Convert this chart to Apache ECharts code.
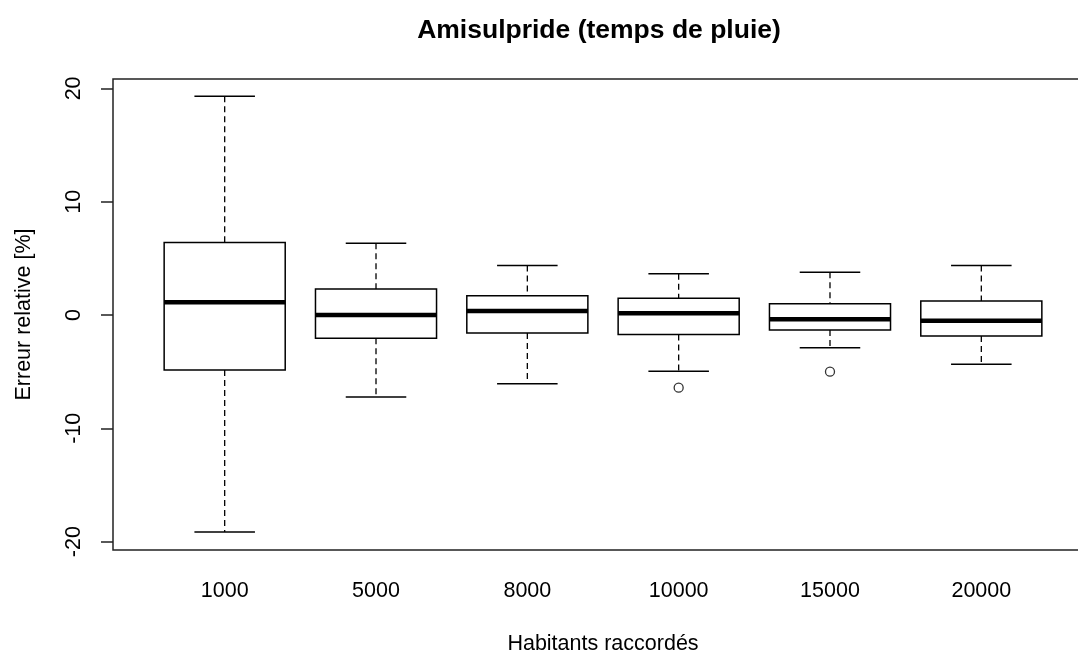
<!DOCTYPE html>
<html>
<head>
<meta charset="utf-8">
<script src="https://cdn.jsdelivr.net/npm/echarts@6/dist/echarts.min.js"></script>
<style>
  html, body { margin: 0; padding: 0; background: #fff; }
  #chart { width: 1078px; height: 652px; }
</style>
</head>
<body>
<div id="chart"></div>
<script>
// categories (habitants raccordés)
let categories = ['1000', '5000', '8000', '10000', '15000', '20000'];
// box stats: lower whisker, Q1, median, Q3, upper whisker
let lowWhisker = [-19.15, -7.24, -6.06, -4.97, -2.88, -4.35];
let q1 = [-4.85, -2.06, -1.59, -1.71, -1.32, -1.85];
let median = [1.12, 0.0, 0.35, 0.15, -0.38, -0.5];
let q3 = [6.4, 2.29, 1.71, 1.47, 1.0, 1.24];
let highWhisker = [19.3, 6.33, 4.38, 3.65, 3.77, 4.38];
// outliers: [category index (1-based), value]
let outliers = [[4, -6.41], [5, -5.0]];
let yTicks = [-20, -10, 0, 10, 20];

let FONT = 'Liberation Sans, Arial, sans-serif';

let boxData = categories.map(function (c, i) {
    return [i + 1, lowWhisker[i], q1[i], median[i], q3[i], highWhisker[i]];
});

function renderBox(params, api) {
    let x = api.value(0);
    let pLow = api.coord([x, api.value(1)]);
    let pQ1 = api.coord([x, api.value(2)]);
    let pMed = api.coord([x, api.value(3)]);
    let pQ3 = api.coord([x, api.value(4)]);
    let pHigh = api.coord([x, api.value(5)]);
    let boxW = api.size([0.8, 0])[0];
    let capW = boxW / 2;
    let cx = pMed[0];
    let dash = { stroke: '#000', lineWidth: 1.3, lineDash: [6, 4] };
    let solid = { stroke: '#000', lineWidth: 1.5 };
    return {
        type: 'group',
        children: [
            { type: 'line', shape: { x1: cx, y1: pHigh[1], x2: cx, y2: pQ3[1] }, style: dash },
            { type: 'line', shape: { x1: cx, y1: pQ1[1], x2: cx, y2: pLow[1] }, style: dash },
            { type: 'line', shape: { x1: cx - capW / 2, y1: pHigh[1], x2: cx + capW / 2, y2: pHigh[1] }, style: solid },
            { type: 'line', shape: { x1: cx - capW / 2, y1: pLow[1], x2: cx + capW / 2, y2: pLow[1] }, style: solid },
            { type: 'rect', shape: { x: cx - boxW / 2, y: pQ3[1], width: boxW, height: pQ1[1] - pQ3[1] },
              style: { fill: '#fff', stroke: '#000', lineWidth: 1.5 } },
            { type: 'line', shape: { x1: cx - boxW / 2, y1: pMed[1], x2: cx + boxW / 2, y2: pMed[1] },
              style: { stroke: '#000', lineWidth: 4.5 } }
        ]
    };
}

let chart = echarts.init(document.getElementById('chart'), null, { renderer: 'canvas' });
chart.setOption({
    backgroundColor: '#fff',
    animation: false,
    title: {
        text: 'Amisulpride (temps de pluie)',
        left: 594,
        textAlign: 'center',
        top: 12,
        textStyle: { fontFamily: FONT, fontSize: 26.5, fontWeight: 'bold', color: '#000' }
    },
    grid: {
        left: 113, top: 79, width: 980, height: 471,
        outerBoundsMode: 'none',
        containLabel: false,
        show: true, borderColor: '#222', borderWidth: 1.5, backgroundColor: 'transparent'
    },
    xAxis: {
        type: 'value',
        min: 0.262, max: 6.738,
        name: 'Habitants raccordés',
        nameLocation: 'middle',
        nameGap: 83,
        nameTextStyle: { fontFamily: FONT, fontSize: 21.5, color: '#000' },
        axisLine: { show: false },
        splitLine: { show: false },
        axisTick: { show: true, length: 12, lineStyle: { color: '#222', width: 1.5 },
                    customValues: [1, 2, 3, 4, 5, 6] },
        axisLabel: {
            customValues: [1, 2, 3, 4, 5, 6],
            margin: 30,
            fontFamily: FONT, fontSize: 21.5, color: '#000',
            formatter: function (v) { return categories[Math.round(v) - 1]; }
        }
    },
    yAxis: {
        type: 'value',
        min: -20.74, max: 20.83,
        name: 'Erreur relative [%]',
        nameLocation: 'middle',
        nameGap: 78,
        nameTextStyle: { fontFamily: FONT, fontSize: 21.5, color: '#000' },
        axisLine: { show: false },
        splitLine: { show: false },
        axisTick: { show: true, length: 12, lineStyle: { color: '#222', width: 1.5 },
                    customValues: yTicks },
        axisLabel: {
            customValues: yTicks,
            rotate: 90,
            margin: 28,
            fontFamily: FONT, fontSize: 21.5, color: '#000'
        }
    },
    series: [
        {
            type: 'custom',
            renderItem: renderBox,
            encode: { x: 0, y: [1, 2, 3, 4, 5] },
            data: boxData,
            silent: true
        },
        {
            type: 'scatter',
            data: outliers,
            symbol: 'circle',
            symbolSize: 9,
            itemStyle: { color: '#fff', borderColor: '#000', borderWidth: 1.3 },
            silent: true
        }
    ]
});
</script>
</body>
</html>
